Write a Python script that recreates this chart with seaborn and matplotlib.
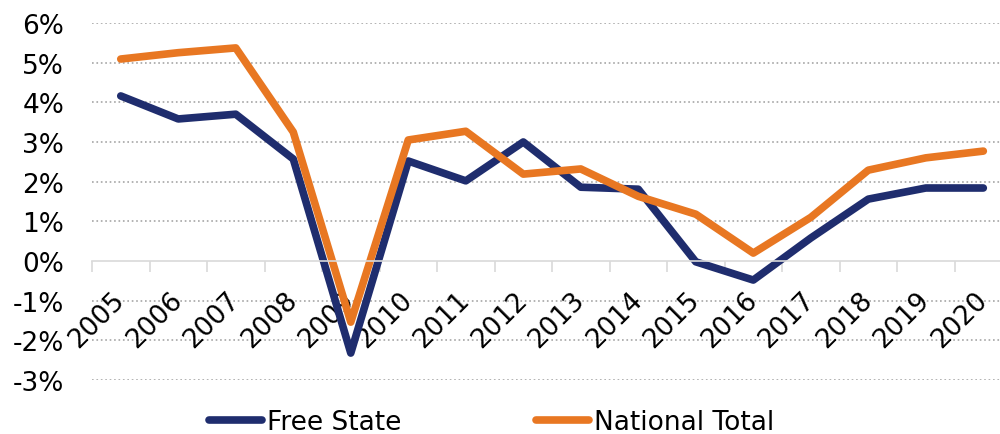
import pandas as pd
import numpy as np
import seaborn as sns
import matplotlib
matplotlib.use("Agg")
import matplotlib.pyplot as plt
from matplotlib.ticker import FuncFormatter, FixedLocator

# Dados (crescimento anual, %)
anos = [str(a) for a in range(2005, 2021)]
free_state = [4.16, 3.58, 3.70, 2.57, -2.32, 2.52, 2.02, 3.00, 1.86, 1.81,
              -0.02, -0.48, 0.58, 1.56, 1.84, 1.84]
national_total = [5.09, 5.25, 5.37, 3.25, -1.54, 3.05, 3.27, 2.19, 2.32, 1.63,
                  1.18, 0.20, 1.10, 2.29, 2.60, 2.77]
series = ['Free State', 'National Total']
cores = {'Free State': '#1f2d6e', 'National Total': '#e87722'}

df = pd.DataFrame({
    'ano': anos * 2,
    'pos': list(range(len(anos))) * 2,
    'valor': free_state + national_total,
    'serie': [series[0]] * len(anos) + [series[1]] * len(anos),
})

sns.set_style("white")
plt.rcParams['font.family'] = ['DejaVu Sans']
plt.rcParams['text.color'] = 'black'

fig = plt.figure(figsize=(10, 4.35), dpi=100)
ax = fig.add_axes([0.092, 0.124, 0.908, 0.821])

sns.lineplot(data=df, x='pos', y='valor', hue='serie', palette=cores,
             linewidth=5.5, ax=ax, legend=True, solid_capstyle='round')

ax.set_xlim(-0.5, 15.29)
ax.set_ylim(-3, 6)
ax.set_yticks(range(-3, 7))
ax.yaxis.set_major_formatter(FuncFormatter(lambda v, p: f"{int(v)}%"))
ax.tick_params(axis='y', length=0, labelsize=19, pad=20, labelcolor='black')

# grade pontilhada
for v in range(-3, 7):
    if v != 0:
        ax.axhline(v, color='#a6a6a6', linestyle=':', linewidth=1.2, zorder=0)

for s in ['top', 'right', 'left']:
    ax.spines[s].set_visible(False)
ax.spines['bottom'].set_position(('data', 0))
ax.spines['bottom'].set_color('#d9d9d9')
ax.spines['bottom'].set_linewidth(1.2)

ax.set_xticks(range(len(anos)))
ax.set_xticklabels(anos, rotation=45, ha='right', va='center', rotation_mode='anchor')
ax.xaxis.set_minor_locator(FixedLocator(np.arange(-0.5, 15.6, 1)))
ax.tick_params(axis='x', which='major', bottom=True, length=0, labelsize=19, pad=25,
               labelcolor='black')
ax.tick_params(axis='x', which='minor', bottom=True, length=8, color='#d9d9d9',
               width=1.2, direction='out')
ax.set_xlabel('')
ax.set_ylabel('')

handles, labels = ax.get_legend_handles_labels()
leg = ax.legend(handles, labels, loc='center', bbox_to_anchor=(0.44, -0.118),
                ncol=2, frameon=False, fontsize=19, handlelength=2.0,
                handletextpad=0.2, columnspacing=5.1, borderaxespad=0)
for h in leg.get_lines():
    h.set_linewidth(5.5)
    h.set_solid_capstyle('round')

fig.savefig('out.png', dpi=100)
